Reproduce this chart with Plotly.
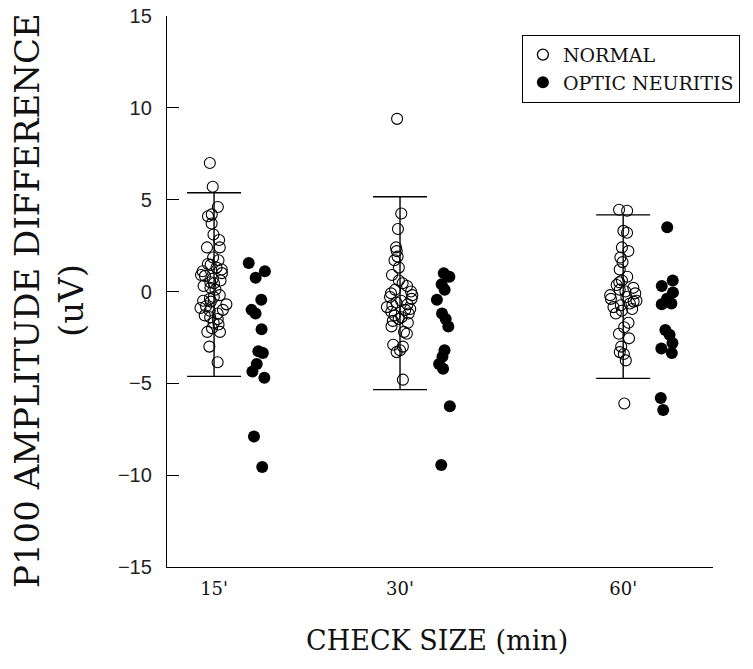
import plotly.graph_objects as go

# ---------------- data ----------------
categories = ["15'", "30'", "60'"]
cat_pos = [1.0, 2.0, 3.2]          # horizontal placement of the three check sizes

normal_15 = [7.0, 5.7, 4.6, 4.2, 4.1, 3.7, 3.1, 2.8, 2.4, 2.4, 1.85, 1.7, 1.5, 1.45,
             1.3, 1.2, 1.1, 1.0, 0.9, 0.85, 0.7, 0.6, 0.5, 0.45, 0.3, 0.2, 0.1,
             -0.2, -0.3, -0.4, -0.5, -0.55, -0.7, -0.8, -0.9, -1.0, -1.05, -1.2,
             -1.3, -1.4, -1.5, -1.7, -1.8, -2.0, -2.2, -2.2, -3.0, -3.85]
normal_30 = [9.4, 4.25, 3.4, 2.4, 2.2, 1.9, 1.7, 1.3, 0.9, 0.6, 0.45, 0.3, 0.1, 0.0,
             -0.1, -0.2, -0.3, -0.4, -0.5, -0.6, -0.7, -0.75, -0.85, -0.95, -1.0,
             -1.1, -1.2, -1.3, -1.4, -1.5, -1.6, -1.7, -1.9, -2.2, -2.3, -2.9, -3.0,
             -3.2, -3.3, -4.8]
normal_60 = [4.45, 4.4, 3.3, 3.2, 2.4, 2.2, 1.85, 1.6, 1.2, 0.8, 0.6, 0.5, 0.35, 0.2,
             0.1, 0.0, -0.1, -0.2, -0.3, -0.4, -0.5, -0.55, -0.65, -0.75, -0.85,
             -0.95, -1.05, -1.2, -1.7, -1.95, -2.3, -2.55, -3.0, -3.3, -3.4, -3.75,
             -6.1]

neuritis_15 = [1.55, 1.1, 0.75, -0.45, -1.0, -1.2, -2.05, -3.25, -3.35, -3.95, -4.35,
               -4.7, -7.9, -9.55]
neuritis_30 = [1.0, 0.8, 0.4, 0.1, -0.45, -1.2, -1.5, -1.9, -3.2, -3.55, -3.95, -4.2,
               -6.25, -9.45]
neuritis_60 = [3.5, 0.6, 0.3, -0.05, -0.4, -0.65, -0.7, -2.1, -2.35, -2.8, -3.1, -3.35,
               -5.8, -6.45]

# normal range bars (mean +/- 2 SD)
normal_mean = [0.38, -0.09, -0.28]
normal_2sd = [5.0, 5.25, 4.45]

yticks = [-15, -10, -5, 0, 5, 10, 15]

# ---------------- figure ----------------
normal_sets = [normal_15, normal_30, normal_60]
neuritis_sets = [neuritis_15, neuritis_30, neuritis_60]

nx, ny = [], []
for p, vals in zip(cat_pos, normal_sets):
    nx += [p] * len(vals)
    ny += vals
ox, oy = [], []
for p, vals in zip(cat_pos, neuritis_sets):
    ox += [p] * len(vals)
    oy += vals

SERIF = "DejaVu Serif, Liberation Serif, serif"
SANS = "Liberation Sans, Arial, sans-serif"
clear = "rgba(0,0,0,0)"

fig = go.Figure()

fig.add_trace(go.Box(
    x=nx, y=ny, boxpoints="all", jitter=0.15, pointpos=0,
    fillcolor=clear, line=dict(color=clear, width=0),
    marker=dict(symbol="circle-open", size=11, color="black", line=dict(width=1.1)),
    showlegend=False, hoverinfo="y", name="NORMAL",
))
fig.add_trace(go.Box(
    x=ox, y=oy, boxpoints="all", jitter=0.11, pointpos=0.48,
    fillcolor=clear, line=dict(color=clear, width=0),
    marker=dict(symbol="circle", size=12, color="black"),
    showlegend=False, hoverinfo="y", name="OPTIC NEURITIS",
))

# normal range bars
fig.add_trace(go.Scatter(
    x=cat_pos, y=normal_mean, mode="markers",
    marker=dict(size=1, color=clear),
    error_y=dict(type="data", array=normal_2sd, symmetric=True,
                 width=27, thickness=1.4, color="black"),
    showlegend=False, hoverinfo="skip",
))

# legend entries
fig.add_trace(go.Scatter(x=[None], y=[None], mode="markers", name="NORMAL",
                         marker=dict(symbol="circle-open", size=11, color="black",
                                     line=dict(width=1.3))))
fig.add_trace(go.Scatter(x=[None], y=[None], mode="markers", name="OPTIC NEURITIS",
                         marker=dict(symbol="circle", size=12, color="black")))

fig.update_layout(
    width=753, height=669, autosize=False,
    margin=dict(l=167, r=40, t=16, b=102),
    paper_bgcolor="white", plot_bgcolor="white",
    boxmode="overlay", boxgap=0, boxgroupgap=0,
    font=dict(family=SERIF, color="#111"),
    legend=dict(x=0.65, y=0.966, xanchor="left", yanchor="top",
                bordercolor="black", borderwidth=1, bgcolor="white",
                font=dict(family=SERIF, size=19, color="#111"),
                itemwidth=30, tracegroupgap=0),
    xaxis=dict(range=[0.747, 3.683], tickvals=cat_pos, ticktext=categories,
               ticks="", showline=True, linecolor="black", linewidth=1.3,
               showgrid=False, zeroline=False, automargin=False,
               tickfont=dict(family=SERIF, size=18, color="#111"),
               ticklabelstandoff=5),
    yaxis=dict(range=[-15, 15], tickvals=yticks, ticks="inside", ticklen=12,
               tickwidth=1.2, tickcolor="black",
               showline=True, linecolor="black", linewidth=1.3,
               showgrid=False, zeroline=False, automargin=False,
               tickfont=dict(family=SANS, size=20, color="#222"),
               ticklabelstandoff=10),
    annotations=[
        dict(text="P100 AMPLITUDE DIFFERENCE<br>(uV)", textangle=-90,
             xref="paper", yref="paper", x=-0.216, y=0.483,
             xanchor="center", yanchor="middle", showarrow=False,
             font=dict(family=SERIF, size=34, color="#111")),
        dict(text="CHECK SIZE (min)", xref="paper", yref="paper",
             x=0.4945, y=-0.1325, xanchor="center", yanchor="middle", showarrow=False,
             font=dict(family=SERIF, size=27, color="#111")),
    ],
)

fig.write_html("out.html", config={"displayModeBar": False},
               post_script="document.body.style.margin='0';")
